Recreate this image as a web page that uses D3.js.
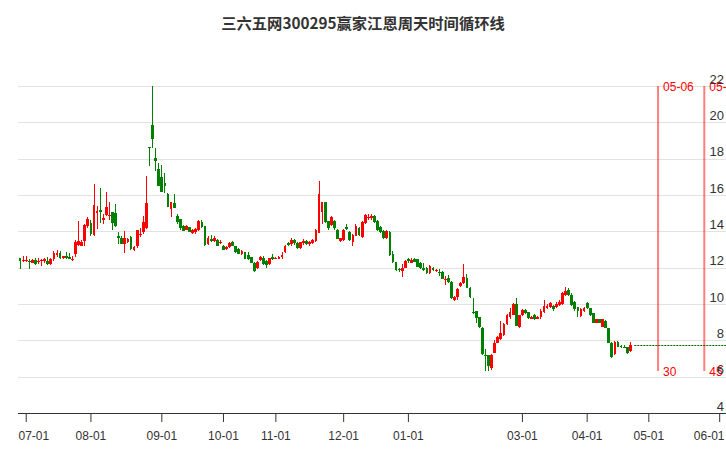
<!DOCTYPE html>
<html><head><meta charset="utf-8">
<script src="https://cdn.jsdelivr.net/npm/d3@7/dist/d3.min.js"></script>
<style>body{margin:0;background:#fff}svg{display:block}</style>
</head><body>
<svg id="chart" width="726" height="450"></svg>
<script>
const chartTitle = "三六五网300295赢家江恩周天时间循环线";
// trading calendar: weekdays from first to last candle, minus exchange holidays
const firstDate = "2023-06-29", lastDate = "2024-04-23", futureEnd = "2024-06-05";
const holidays = ["2023-09-29","2023-10-02","2023-10-03","2023-10-04","2023-10-05","2023-10-06",
  "2024-01-01","2024-02-09","2024-02-12","2024-02-13","2024-02-14","2024-02-15","2024-02-16",
  "2024-04-04","2024-04-05"];
const openP = [12.52,12.36,12.40,12.38,12.27,12.43,12.31,12.36,12.38,12.38,12.18,12.45,12.72,12.79,12.52,12.65,12.61,12.48,12.76,13.24,
13.21,13.46,14.29,14.47,13.78,15.00,15.19,14.61,14.88,14.83,15.06,15.00,13.77,13.64,13.28,13.40,13.68,12.95,13.17,13.83,
13.95,14.20,18.66,19.85,18.01,17.41,17.00,16.64,16.03,15.22,15.55,14.86,14.68,14.31,14.09,14.22,13.90,13.95,14.10,14.53,
14.31,13.31,13.58,13.49,13.50,13.35,13.22,13.04,13.13,13.40,13.18,13.04,12.73,12.86,12.72,12.56,12.28,12.00,12.40,12.52,
12.36,12.18,12.58,12.47,12.50,12.58,12.88,13.35,13.30,13.53,13.35,13.10,13.35,13.48,13.30,13.35,13.48,13.93,15.05,15.60,
14.56,14.34,14.56,14.05,13.48,13.53,14.25,13.96,13.39,13.75,14.20,13.69,14.47,14.78,14.79,14.86,14.56,14.25,14.02,13.62,
13.98,12.76,12.31,11.95,11.81,12.00,12.46,12.28,12.50,12.46,12.24,12.00,12.00,11.68,12.00,11.83,11.76,11.76,11.35,11.44,
11.22,10.20,10.37,10.98,11.17,11.41,10.89,9.58,9.60,9.28,8.67,7.22,7.22,6.50,7.33,7.87,8.06,8.30,8.91,9.30,
9.41,10.02,8.72,9.37,9.69,9.54,9.20,9.41,9.20,9.30,9.55,9.76,9.85,9.89,9.85,9.94,10.00,10.50,10.77,10.50,
10.13,9.82,9.34,9.60,10.04,9.76,9.49,8.97,9.16,8.75,9.08,8.70,7.87,7.25,7.93,7.70,7.66,7.61,7.41];
const highP = [12.55,12.63,12.63,12.48,12.45,12.54,12.54,12.48,12.54,12.57,12.54,12.92,12.97,12.92,12.66,12.85,12.79,12.63,13.51,14.56,
13.55,14.43,14.79,14.61,16.63,15.37,16.36,14.95,16.16,15.60,15.06,15.53,13.95,13.77,14.02,13.62,13.77,13.20,14.10,14.17,
14.86,17.05,18.66,22.00,18.60,17.77,17.63,17.19,16.13,15.59,16.04,14.95,14.70,14.35,14.35,14.25,14.14,14.18,14.64,14.60,
14.31,13.73,13.80,13.73,13.58,13.50,13.27,13.22,13.44,13.49,13.22,13.08,12.95,12.86,12.86,12.60,12.30,12.35,12.63,12.63,
12.40,12.55,12.76,12.58,12.63,12.85,13.24,13.39,13.66,13.57,13.39,13.42,13.57,13.53,13.46,13.60,14.11,16.76,15.59,15.64,
14.56,14.83,14.61,14.11,13.66,14.11,14.41,14.02,13.84,14.38,14.25,14.56,14.97,14.97,14.97,14.92,14.60,14.32,14.07,14.05,
14.02,12.94,12.31,12.00,12.19,12.40,12.52,12.55,12.52,12.48,12.31,12.24,12.02,12.15,12.05,11.95,11.91,11.81,11.54,11.57,
11.26,10.43,10.87,11.20,12.19,11.63,10.93,10.33,9.61,9.31,8.72,7.55,7.22,7.24,8.02,8.22,9.04,8.94,9.45,9.78,
10.06,10.33,9.41,9.72,9.74,9.54,9.33,9.46,9.34,9.70,10.24,9.98,10.13,9.94,10.09,10.20,10.66,10.95,10.86,10.59,
10.18,9.86,9.76,9.85,10.09,9.80,9.52,9.20,9.20,9.20,9.11,8.70,7.93,7.96,7.96,7.75,7.72,7.65,7.93];
const lowP = [11.91,12.30,12.30,11.91,12.25,12.13,12.22,12.07,12.25,12.16,12.15,12.38,12.59,12.50,12.50,12.48,12.45,12.38,12.58,13.21,
13.19,13.21,14.20,13.75,13.75,14.14,14.47,14.41,14.83,14.65,14.07,14.25,13.28,13.28,12.82,13.38,12.95,12.90,13.10,13.68,
13.86,14.13,17.60,18.57,17.32,16.50,16.17,16.13,15.35,14.77,15.31,14.40,14.10,14.00,14.05,13.95,13.84,13.84,14.04,14.18,
13.22,13.27,13.44,13.40,13.22,13.30,13.00,13.00,13.08,13.22,12.82,12.73,12.70,12.49,12.40,12.25,11.75,11.95,12.35,12.16,
12.00,12.15,12.40,12.45,12.45,12.45,12.81,13.17,13.21,13.24,13.03,13.05,13.24,13.24,13.21,13.30,13.42,13.89,14.38,14.47,
14.10,14.32,14.10,13.56,13.42,13.48,14.05,13.48,13.21,13.72,13.75,13.66,14.43,14.65,14.65,14.47,14.00,13.92,13.60,13.60,
12.66,12.27,11.82,11.78,11.50,11.96,12.28,12.24,12.30,12.03,11.94,11.81,11.65,11.63,11.81,11.78,11.54,11.35,11.04,11.17,
10.28,10.15,10.20,10.94,11.11,10.89,10.35,9.45,8.98,8.67,7.19,6.31,6.31,6.39,7.31,7.83,8.02,8.26,8.85,9.20,
9.37,8.80,8.69,9.32,9.46,9.19,9.18,9.13,9.17,9.20,9.50,9.72,9.80,9.61,9.80,9.90,9.94,10.45,10.45,9.89,
9.63,9.30,9.30,9.55,9.72,9.35,8.93,8.93,8.94,8.71,8.66,7.83,7.05,7.20,7.61,7.58,7.57,7.24,7.37];
const closeP = [12.34,12.44,12.42,12.31,12.43,12.18,12.38,12.43,12.45,12.22,12.45,12.79,12.79,12.52,12.63,12.52,12.47,12.50,13.44,13.48,
13.44,14.36,14.68,13.84,15.46,15.10,15.05,14.74,15.33,14.92,14.47,14.29,13.62,13.31,13.64,13.58,13.04,13.13,14.08,13.86,
14.50,15.55,18.60,19.07,17.86,16.50,16.17,16.50,15.35,15.59,15.31,14.53,14.19,14.04,14.31,13.99,14.10,14.13,14.59,14.22,
13.27,13.62,13.49,13.62,13.22,13.44,13.00,13.13,13.37,13.22,12.86,12.77,12.90,12.50,12.45,12.28,11.81,12.30,12.61,12.22,
12.13,12.52,12.45,12.52,12.58,12.70,13.20,13.24,13.53,13.35,13.06,13.39,13.48,13.30,13.42,13.53,14.05,16.05,15.59,14.50,
14.16,14.79,14.20,13.60,13.62,14.05,14.11,13.53,13.78,14.32,13.78,14.52,14.92,14.81,14.82,14.50,14.05,13.96,13.66,14.02,
12.70,12.31,11.86,11.85,12.00,12.37,12.37,12.40,12.33,12.05,12.00,11.87,11.68,12.09,11.87,11.87,11.72,11.39,11.39,11.22,
10.33,10.37,10.83,11.17,11.48,10.89,10.39,9.50,9.22,8.72,7.24,7.15,6.59,7.19,7.87,8.17,8.39,8.91,9.41,9.54,
10.02,8.81,9.37,9.69,9.50,9.22,9.30,9.19,9.30,9.60,9.89,9.91,10.04,9.72,10.00,10.13,10.59,10.72,10.50,9.94,
9.71,9.63,9.72,9.78,9.76,9.39,8.97,9.16,8.97,9.16,8.70,7.87,7.10,7.93,7.65,7.66,7.64,7.28,7.74];
const yTickValues = [4,6,8,10,12,14,16,18,20,22];
const xTickMonths = ["2023-07","2023-08","2023-09","2023-10","2023-11","2023-12","2024-01","2024-03","2024-04","2024-05","2024-06"];
const xTickLabels = ["07-01","08-01","09-01","10-01","11-01","12-01","01-01","03-01","04-01","05-01","06-01"];
const cycleDates = ["2024-05-06","2024-05-27"];
const cycleTopLabels = ["05-06","05-27"];
const cycleBottomLabels = ["30","45"];

// build date domain
const fmt = d3.utcFormat("%Y-%m-%d"), parse = d3.utcParse("%Y-%m-%d");
const hol = new Set(holidays);
function weekdays(a, b) {
  return d3.utcDays(parse(a), d3.utcDay.offset(parse(b), 1)).filter(d => d.getUTCDay() % 6 !== 0).map(fmt);
}
const tradeDates = weekdays(firstDate, lastDate).filter(d => !hol.has(d));
const futureDates = weekdays(fmt(d3.utcDay.offset(parse(lastDate), 1)), futureEnd);
const allDates = tradeDates.concat(futureDates);
const candles = tradeDates.map((d, i) => ({date: d, o: openP[i], h: highP[i], l: lowP[i], c: closeP[i]}));

const W = 726, H = 450, plotLeft = 18.5, plotRight = 727.4, plotTop = 86, plotBottom = 413;
const svg = d3.select("#chart");
const x = d3.scaleBand().domain(allDates).range([plotLeft, plotRight]).paddingInner(0.1).paddingOuter(0.05);
const y = d3.scaleLinear().domain([4, 22]).range([plotBottom, plotTop]);
const cx = d => x(d) + x.bandwidth() / 2;

svg.append("text").attr("x", W / 2).attr("y", 29).attr("text-anchor", "middle")
  .style("font-family", "'Noto Sans CJK SC', sans-serif").style("font-weight", "bold")
  .style("font-size", "15.3px").attr("fill", "#333").text(chartTitle);

// grid
svg.append("g").selectAll("line").data(yTickValues.filter(v => v > 4)).join("line")
  .attr("x1", 18).attr("x2", W).attr("y1", d => Math.round(y(d)) + 0.5).attr("y2", d => Math.round(y(d)) + 0.5)
  .attr("stroke", "#e2e2e2").attr("stroke-width", 1);

// candles
const cg = svg.append("g").attr("shape-rendering", "crispEdges");
cg.selectAll("line").data(candles).join("line")
  .attr("x1", d => cx(d.date)).attr("x2", d => cx(d.date))
  .attr("y1", d => y(d.h)).attr("y2", d => y(d.l))
  .attr("stroke", d => d.c >= d.o ? "#ff0000" : "#008000").attr("stroke-width", 1);
cg.selectAll("rect").data(candles).join("rect")
  .attr("x", d => x(d.date)).attr("width", x.bandwidth())
  .attr("y", d => y(Math.max(d.o, d.c)))
  .attr("height", d => Math.max(1.2, Math.abs(y(d.o) - y(d.c))))
  .attr("fill", d => d.c >= d.o ? "#ff0000" : "#008000");

// last close dashed line
const last = candles[candles.length - 1];
svg.append("line").attr("x1", cx(last.date) + 4).attr("x2", W)
  .attr("y1", Math.round(y(last.c)) + 0.5).attr("y2", Math.round(y(last.c)) + 0.5)
  .attr("stroke", "#006400").attr("stroke-width", 1).attr("stroke-dasharray", "2,1");

// cycle lines
const hiY = y(d3.max(highP)), loY = y(d3.min(lowP));
const cyc = svg.append("g");
cycleDates.forEach((d, k) => {
  const xx = cx(d);
  cyc.append("line").attr("x1", xx).attr("x2", xx).attr("y1", hiY).attr("y2", loY)
    .attr("stroke", "#ff0000").attr("stroke-opacity", 0.5).attr("stroke-width", 2);
  cyc.append("text").attr("x", xx + 5).attr("y", hiY + 4.5).attr("fill", "#ff0000")
    .style("font-family", "'Liberation Sans', Arial, sans-serif").style("font-size", "12px").text(cycleTopLabels[k]);
  cyc.append("text").attr("x", xx + 5).attr("y", loY + 4.5).attr("fill", "#ff0000")
    .style("font-family", "'Liberation Sans', Arial, sans-serif").style("font-size", "12px").text(cycleBottomLabels[k]);
});

// y labels (right)
svg.append("g").selectAll("text").data(yTickValues).join("text")
  .attr("x", 724).attr("y", d => y(d) - 2.5).attr("text-anchor", "end")
  .attr("fill", "#333").style("font-family", "'Liberation Sans', Arial, sans-serif").style("font-size", "13px")
  .text(d => d);

// x axis
const tickDates = xTickMonths.map(m => allDates.find(d => d.startsWith(m)));
const xAxis = d3.axisBottom(x).tickValues(tickDates).tickSize(9).tickSizeOuter(0)
  .tickFormat((d, i) => xTickLabels[i]);
const ax = svg.append("g").attr("transform", `translate(0,${plotBottom})`).call(xAxis);
ax.select(".domain").attr("d", `M18,0.5H${W}`).attr("stroke", "#333");
ax.selectAll(".tick line").attr("stroke", "#333");
ax.selectAll(".tick text").attr("fill", "#333").attr("dy", null).attr("y", 27)
  .style("font-family", "'Liberation Sans', Arial, sans-serif").style("font-size", "12px");
ax.selectAll(".tick").each(function(d) {
  const t = d3.select(this).select("text");
  const w = t.node().getComputedTextLength();
  const c = cx(d);
  let shift = 0;
  if (c - w / 2 < 18.5) shift = 18.5 - (c - w / 2);
  if (c + w / 2 > 724.5) shift = 724.5 - (c + w / 2);
  t.attr("x", shift);
});
</script>
</body></html>
